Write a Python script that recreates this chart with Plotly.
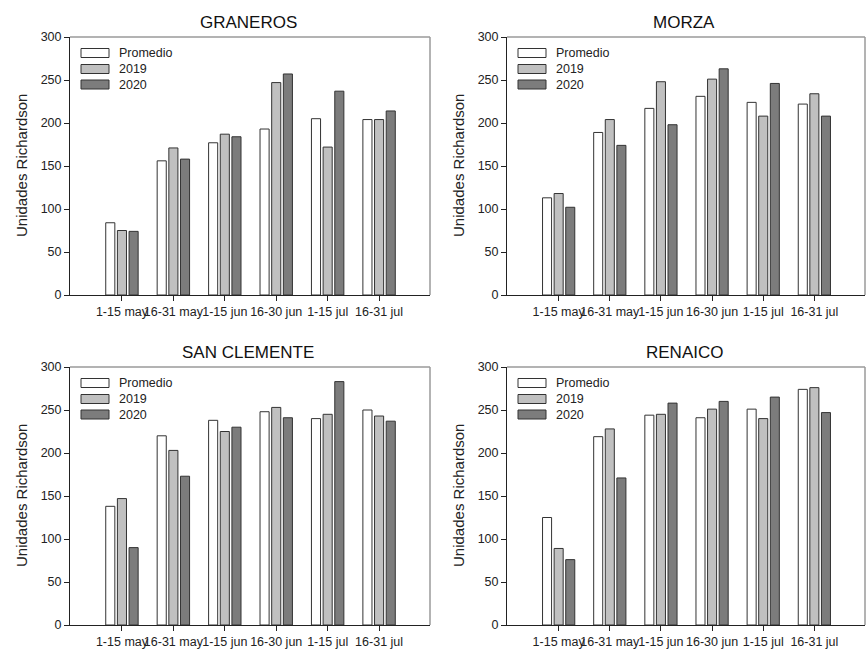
import plotly.graph_objects as go

categories = ["1-15 may", "16-31 may", "1-15 jun", "16-30 jun", "1-15 jul", "16-31 jul"]
series_names = ["Promedio", "2019", "2020"]
panel_titles = ["GRANEROS", "MORZA", "SAN CLEMENTE", "RENAICO"]

graneros_promedio = [84, 156, 177, 193, 205, 204]
graneros_2019 = [75, 171, 187, 247, 172, 204]
graneros_2020 = [74, 158, 184, 257, 237, 214]

morza_promedio = [113, 189, 217, 231, 224, 222]
morza_2019 = [118, 204, 248, 251, 208, 234]
morza_2020 = [102, 174, 198, 263, 246, 208]

sanclemente_promedio = [138, 220, 238, 248, 240, 250]
sanclemente_2019 = [147, 203, 225, 253, 245, 243]
sanclemente_2020 = [90, 173, 230, 241, 283, 237]

renaico_promedio = [125, 219, 244, 241, 251, 274]
renaico_2019 = [89, 228, 245, 251, 240, 276]
renaico_2020 = [76, 171, 258, 260, 265, 247]

y_ticks = [0, 50, 100, 150, 200, 250, 300]

panels = [
    [graneros_promedio, graneros_2019, graneros_2020],
    [morza_promedio, morza_2019, morza_2020],
    [sanclemente_promedio, sanclemente_2019, sanclemente_2020],
    [renaico_promedio, renaico_2019, renaico_2020],
]

colors = ["#ffffff", "#c0c0c0", "#7c7c7c"]
FONT = "Arial, 'Liberation Sans', sans-serif"
W, H = 868, 650

# pixel boxes of plot areas (left, top, right, bottom)
boxes = [(70, 37, 430, 295), (507, 37, 865, 295), (70, 367, 430, 625), (507, 367, 865, 625)]

fig = go.Figure()
layout = dict(
    template="none",
    width=W, height=H, margin=dict(l=0, r=0, t=0, b=0, pad=0), autosize=False,
    paper_bgcolor="white", plot_bgcolor="white",
    barmode="group", bargap=0.32, bargroupgap=0.22,
    showlegend=False, font=dict(family=FONT, color="#222"),
)
annotations = []
shapes = []

for i, (data, title, box) in enumerate(zip(panels, panel_titles, boxes)):
    n = i + 1
    xa = "x" if n == 1 else f"x{n}"
    ya = "y" if n == 1 else f"y{n}"
    l, t, r, b = box
    pw, ph = r - l, b - t
    for vals, name, col in zip(data, series_names, colors):
        fig.add_trace(go.Bar(
            x=categories, y=vals, name=name, xaxis=xa, yaxis=ya,
            marker=dict(color=col, line=dict(color="#333", width=1)),
        ))
    layout[f"xaxis{'' if n == 1 else n}"] = dict(
        domain=[l / W, r / W], anchor=ya, type="category", automargin=False,
        range=[-1.01, 5.99], showline=True, linecolor="#222", linewidth=1,
        ticks="outside", ticklen=5, tickcolor="#222", tickangle=0,
        tickfont=dict(size=12.5, family=FONT, color="#222"),
        showgrid=False, zeroline=False, fixedrange=True,
    )
    layout[f"yaxis{'' if n == 1 else n}"] = dict(
        domain=[1 - b / H, 1 - t / H], anchor=xa, automargin=False,
        range=[0, 300], tickvals=y_ticks, showline=True, linecolor="#222", linewidth=1,
        ticks="outside", ticklen=5, tickcolor="#222",
        tickfont=dict(size=12.5, family=FONT, color="#222"),
        showgrid=False, zeroline=False, fixedrange=True,
    )
    xd = f"{xa} domain"
    yd = f"{ya} domain"
    # gray frame top & right
    shapes.append(dict(type="line", xref=xd, yref=yd, x0=0, x1=1, y0=1, y1=1,
                       line=dict(color="#9a9a9a", width=1.5)))
    shapes.append(dict(type="line", xref=xd, yref=yd, x0=1, x1=1, y0=0, y1=1,
                       line=dict(color="#9a9a9a", width=1.5)))
    # title
    annotations.append(dict(text=title, xref=xd, yref=yd, x=0.495, y=1 + 14.5 / ph,
                            xanchor="center", yanchor="middle", showarrow=False,
                            font=dict(size=17, family=FONT, color="#111")))
    # y-axis title
    annotations.append(dict(text="Unidades Richardson", xref=xd, yref=yd,
                            x=-49 / pw, y=0.5, textangle=-90, xanchor="center",
                            yanchor="middle", showarrow=False,
                            font=dict(size=15, family=FONT, color="#222")))
    # legend
    row_offsets = [16, 32, 47.5]
    for name, col, off in zip(series_names, colors, row_offsets):
        yc = 1 - off / ph
        shapes.append(dict(type="rect", xref=xd, yref=yd,
                           x0=11 / pw, x1=39 / pw, y0=yc - 4.5 / ph, y1=yc + 4.5 / ph,
                           fillcolor=col, line=dict(color="#333", width=1)))
        annotations.append(dict(text=name, xref=xd, yref=yd, x=47 / pw, y=yc,
                                xanchor="left", yanchor="middle", showarrow=False,
                                font=dict(size=12.5, family=FONT, color="#222")))

layout["annotations"] = annotations
layout["shapes"] = shapes
fig.update_layout(**layout)
fig.write_html("out.html", config={"displayModeBar": False},
               post_script="document.body.style.margin='0';document.body.style.overflow='hidden';")
